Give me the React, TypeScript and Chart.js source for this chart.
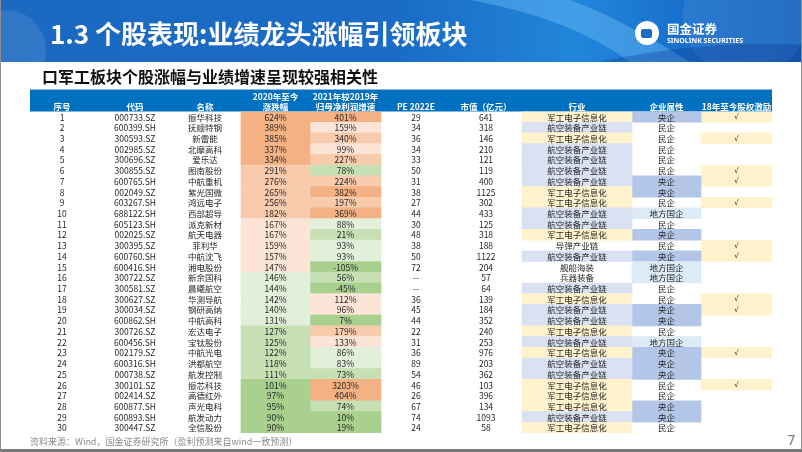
import React, { useEffect, useRef } from 'react';
import { Chart, registerables } from 'chart.js';

Chart.register(...registerables);

// ---------------- data ----------------
const ROW_NO = [1, 2, 3, 4, 5, 6, 7, 8, 9, 10, 11, 12, 13, 14, 15, 16, 17, 18, 19, 20, 21, 22, 23, 24, 25, 26, 27, 28, 29, 30];
const CODES = ['000733.SZ', '600399.SH', '300593.SZ', '002985.SZ', '300696.SZ', '300855.SZ', '600765.SH', '002049.SZ', '603267.SH', '688122.SH', '605123.SH', '002025.SZ', '300395.SZ', '600760.SH', '600416.SH', '300722.SZ', '300581.SZ', '300627.SZ', '300034.SZ', '600862.SH', '300726.SZ', '600456.SH', '002179.SZ', '600316.SH', '000738.SZ', '300101.SZ', '002414.SZ', '600877.SH', '600893.SH', '300447.SZ'];
const NAMES = ['振华科技', '抚顺特钢', '新雷能', '北摩高科', '爱乐达', '图南股份', '中航重机', '紫光国微', '鸿远电子', '西部超导', '派克新材', '航天电器', '菲利华', '中航沈飞', '湘电股份', '新余国科', '晨曦航空', '华测导航', '钢研高纳', '中航高科', '宏达电子', '宝钛股份', '中航光电', '洪都航空', '航发控制', '振芯科技', '高德红外', '声光电科', '航发动力', '全信股份'];
const RISE_2020 = [624, 389, 385, 337, 334, 291, 276, 265, 256, 182, 167, 167, 159, 157, 147, 146, 144, 142, 140, 131, 127, 125, 122, 118, 111, 101, 97, 95, 90, 90];
const GROWTH_2021 = [401, 159, 340, 99, 227, 78, 224, 382, 197, 369, 88, 21, 93, 93, -105, 56, -45, 112, 96, 7, 179, 133, 86, 83, 73, 3203, 404, 74, 10, 19];
const PE_2022E: (number | null)[] = [29, 34, 36, 34, 33, 50, 31, 38, 27, 44, 30, 48, 38, 50, 72, null, null, 36, 45, 44, 22, 31, 36, 89, 54, 46, 26, 67, 74, 24];
const MKT_CAP = [641, 318, 146, 210, 121, 119, 400, 1125, 302, 433, 125, 318, 188, 1122, 204, 57, 64, 139, 184, 352, 240, 253, 976, 203, 362, 103, 396, 134, 1093, 58];
const INDUSTRY = ['军工电子信息化', '航空装备产业链', '军工电子信息化', '航空装备产业链', '航空装备产业链', '航空装备产业链', '航空装备产业链', '军工电子信息化', '军工电子信息化', '航空装备产业链', '航空装备产业链', '军工电子信息化', '导弹产业链', '航空装备产业链', '舰船海装', '兵器装备', '航空装备产业链', '军工电子信息化', '航空装备产业链', '航空装备产业链', '军工电子信息化', '航空装备产业链', '军工电子信息化', '航空装备产业链', '航空装备产业链', '军工电子信息化', '军工电子信息化', '军工电子信息化', '航空装备产业链', '军工电子信息化'];
const OWNERSHIP = ['央企', '民企', '民企', '民企', '民企', '民企', '央企', '央企', '民企', '地方国企', '民企', '央企', '民企', '央企', '地方国企', '地方国企', '民企', '民企', '央企', '央企', '民企', '地方国企', '央企', '央企', '央企', '民企', '民企', '央企', '央企', '民企'];
const INCENTIVE = [true, false, true, false, false, true, true, false, true, false, false, false, true, true, false, false, false, true, true, false, false, false, true, false, false, true, false, false, false, false];

const HEADERS: { lines: string[]; col: string }[] = [
  { lines: ['序号'], col: 'no' },
  { lines: ['代码'], col: 'code' },
  { lines: ['名称'], col: 'name' },
  { lines: ['2020年至今', '涨跌幅'], col: 'rise' },
  { lines: ['2021年较2019年', '归母净利润增速'], col: 'growth' },
  { lines: ['PE 2022E'], col: 'pe' },
  { lines: ['市值（亿元）'], col: 'cap' },
  { lines: ['行业'], col: 'ind' },
  { lines: ['企业属性'], col: 'own' },
  { lines: ['18年至今股权激励'], col: 'inc' },
];

const TITLE = '1.3 个股表现:业绩龙头涨幅引领板块';
const SUBTITLE = '口军工板块个股涨幅与业绩增速呈现较强相关性';
const SOURCE = '资料来源：Wind，国金证券研究所（盈利预测来自wind一致预测）';
const PAGE_NO = '7';

// ---------------- layout & style ----------------
const W = 802;
const H = 452;
const TABLE_SPAN = [30, 772];
const COL_CENTER: Record<string, number> = { no: 62, code: 135, name: 205, rise: 275.5, growth: 345.5, pe: 416, cap: 486, ind: 577, own: 666.5, inc: 736.5 };
const CELL_SPAN: Record<string, [number, number]> = { rise: [241, 310], growth: [310, 381], ind: [522, 632], own: [632, 701], inc: [701, 772] };

const O1 = '#F4B183', O2 = '#F8CBAD', O3 = '#FCE4D6', G3 = '#E2EFDA', G2 = '#C6E0B4', G1 = '#A9D08E';
const RISE_FILL = [O1, O1, O1, O1, O1, O2, O2, O2, O2, O2, O3, O3, O3, O3, O3, G3, G3, G3, G3, G3, G2, G2, G2, G2, G2, G1, G1, G1, G1, G1];
const GROWTH_FILL = [O1, O3, O2, O3, O2, G2, O2, O1, O2, O1, G3, G2, G3, G3, G1, G2, G1, O3, O3, G1, O2, O3, G3, G3, G2, O1, O1, G2, G1, G1];
const INDUSTRY_FILL: Record<string, string> = { '军工电子信息化': '#FFF2CC', '航空装备产业链': '#D9E1F2' };
const OWNERSHIP_FILL: Record<string, string> = { '央企': '#B4C6E7', '地方国企': '#DDEBF7' };
const INCENTIVE_FILL = '#FFF2CC';
const HEADER_BLUE = '#0070C0';
const CJK = '"Noto Sans CJK SC", "Noto Sans", sans-serif';
const TEXT_COLOR = '#262626';

function span(key: string) {
  return ROW_NO.map(() => CELL_SPAN[key]);
}

function drawBanner(ctx: CanvasRenderingContext2D) {
  const BH = 62;
  ctx.save();
  const g = ctx.createLinearGradient(0, 0, W, 0);
  g.addColorStop(0, '#1b68c0');
  g.addColorStop(0.5, '#1a6cc6');
  g.addColorStop(0.72, '#2186da');
  g.addColorStop(0.85, '#1870cc');
  g.addColorStop(1, '#1461bd');
  ctx.fillStyle = g;
  ctx.fillRect(0, 0, W, BH);
  ctx.beginPath();
  ctx.rect(0, 0, W, BH);
  ctx.clip();
  ctx.fillStyle = 'rgba(255,255,255,0.10)';
  ctx.beginPath();
  ctx.arc(6, 50, 40, 0, Math.PI * 2);
  ctx.fill();
  ctx.fillStyle = 'rgba(130,205,255,0.35)';
  ctx.beginPath();
  ctx.moveTo(470, 0);
  ctx.quadraticCurveTo(570, 18, 630, 62);
  ctx.lineTo(690, 62);
  ctx.quadraticCurveTo(620, 18, 570, 0);
  ctx.closePath();
  ctx.fill();
  ctx.fillStyle = 'rgba(255,255,255,0.08)';
  ctx.beginPath();
  ctx.arc(745, 16, 62, 0, Math.PI * 2);
  ctx.fill();
  ctx.fillStyle = 'rgba(10,50,140,0.30)';
  ctx.beginPath();
  ctx.moveTo(600, 62);
  ctx.quadraticCurveTo(700, 40, 802, 45);
  ctx.lineTo(802, 62);
  ctx.closePath();
  ctx.fill();
  ctx.restore();

  // title
  ctx.save();
  ctx.fillStyle = '#ffffff';
  ctx.font = `bold 26px ${CJK}`;
  ctx.textAlign = 'left';
  ctx.textBaseline = 'middle';
  ctx.fillText(TITLE, 50, 34);

  // logo
  ctx.beginPath();
  ctx.arc(647, 33, 12, 0, Math.PI * 2);
  ctx.fill();
  ctx.fillStyle = '#1a6ec8';
  ctx.beginPath();
  ctx.roundRect(641, 29, 11, 9, 2);
  ctx.fill();
  ctx.fillStyle = '#ffffff';
  ctx.font = `bold 12.5px ${CJK}`;
  ctx.fillText('国金证券', 667, 29);
  ctx.font = `bold 7px "Noto Sans", sans-serif`;
  ctx.fillText('SINOLINK SECURITIES', 667, 40.5);
  ctx.restore();
}

const slidePlugin = {
  id: 'slide',
  beforeDraw(chart: any) {
    const { ctx, chartArea, scales } = chart;
    const x = scales.x;
    ctx.save();
    ctx.fillStyle = '#ffffff';
    ctx.fillRect(0, 0, chart.width, chart.height);
    drawBanner(ctx);

    ctx.fillStyle = '#111111';
    ctx.font = `bold 16px ${CJK}`;
    ctx.textAlign = 'left';
    ctx.textBaseline = 'middle';
    ctx.fillText(SUBTITLE, 42, 77);

    const rowH = (chartArea.bottom - chartArea.top) / ROW_NO.length;
    const hTop = chartArea.top - 2.05 * rowH;
    const hl = x.getPixelForValue(TABLE_SPAN[0]);
    const hr = x.getPixelForValue(TABLE_SPAN[1]);
    ctx.fillStyle = HEADER_BLUE;
    ctx.fillRect(hl, hTop, hr - hl, chartArea.top - hTop);

    ctx.fillStyle = '#ffffff';
    ctx.font = `bold 8.5px ${CJK}`;
    ctx.textAlign = 'center';
    HEADERS.forEach((h) => {
      const cx = x.getPixelForValue(COL_CENTER[h.col]);
      if (h.lines.length === 2) {
        ctx.fillText(h.lines[0], cx, hTop + 7);
        ctx.fillText(h.lines[1], cx, hTop + 17.5);
      } else {
        ctx.fillText(h.lines[0], cx, hTop + 17.5);
      }
    });
    ctx.restore();
  },
  afterDatasetsDraw(chart: any) {
    const { ctx, scales } = chart;
    const x = scales.x, y = scales.y;
    ctx.save();
    ctx.fillStyle = TEXT_COLOR;
    ctx.font = `8.5px ${CJK}`;
    ctx.textAlign = 'center';
    ctx.textBaseline = 'middle';
    const put = (s: string, key: string, yc: number) => ctx.fillText(s, x.getPixelForValue(COL_CENTER[key]), yc);
    ROW_NO.forEach((n, i) => {
      const yc = y.getPixelForValue(i) + 0.5;
      put(String(n), 'no', yc);
      put(CODES[i], 'code', yc);
      put(NAMES[i], 'name', yc);
      put(`${RISE_2020[i]}%`, 'rise', yc);
      put(`${GROWTH_2021[i]}%`, 'growth', yc);
      put(PE_2022E[i] == null ? '--' : String(PE_2022E[i]), 'pe', yc);
      put(String(MKT_CAP[i]), 'cap', yc);
      put(INDUSTRY[i], 'ind', yc);
      put(OWNERSHIP[i], 'own', yc);
    });
    ctx.font = `7px "DejaVu Sans", sans-serif`;
    ROW_NO.forEach((n, i) => {
      if (INCENTIVE[i]) put('√', 'inc', y.getPixelForValue(i) + 0.5);
    });
    ctx.restore();
  },
  afterDraw(chart: any) {
    const { ctx } = chart;
    ctx.save();
    ctx.fillStyle = '#8a8a8a';
    ctx.font = `9px ${CJK}`;
    ctx.textAlign = 'left';
    ctx.textBaseline = 'middle';
    ctx.fillText(SOURCE, 30, 442);
    ctx.font = `14px "DejaVu Sans", sans-serif`;
    ctx.fillStyle = '#7f7f7f';
    ctx.textAlign = 'right';
    ctx.fillText(PAGE_NO, 796, 441);
    ctx.strokeStyle = '#8c8c8c';
    ctx.lineWidth = 1;
    ctx.beginPath();
    ctx.moveTo(0.5, 0);
    ctx.lineTo(0.5, H);
    ctx.moveTo(W - 0.5, 0);
    ctx.lineTo(W - 0.5, H);
    ctx.stroke();
    ctx.fillStyle = '#7a7a7a';
    ctx.fillRect(0, 449, W, 3);
    ctx.restore();
  },
};

export default function App() {
  const ref = useRef<HTMLCanvasElement>(null);
  useEffect(() => {
    document.body.style.margin = '0';
    const cellOpts = { barPercentage: 1, categoryPercentage: 1, grouped: false, borderWidth: 0 };
    const chart = new Chart(ref.current as HTMLCanvasElement, {
      type: 'bar',
      data: {
        labels: ROW_NO.map(String),
        datasets: [
          { label: '2020年至今涨跌幅', data: span('rise') as any, backgroundColor: RISE_FILL, ...cellOpts },
          { label: '2021年较2019年归母净利润增速', data: span('growth') as any, backgroundColor: GROWTH_FILL, ...cellOpts },
          { label: '行业', data: span('ind') as any, backgroundColor: INDUSTRY.map((s) => INDUSTRY_FILL[s] || 'rgba(0,0,0,0)'), ...cellOpts },
          { label: '企业属性', data: span('own') as any, backgroundColor: OWNERSHIP.map((s) => OWNERSHIP_FILL[s] || 'rgba(0,0,0,0)'), ...cellOpts },
          { label: '18年至今股权激励', data: INCENTIVE.map((v) => (v ? CELL_SPAN.inc : null)) as any, backgroundColor: INCENTIVE_FILL, ...cellOpts },
        ],
      },
      options: {
        indexAxis: 'y',
        animation: false,
        responsive: false,
        maintainAspectRatio: false,
        layout: { padding: { top: 111.5, bottom: 19, left: 0, right: 0 } },
        scales: {
          x: { type: 'linear', min: 0, max: W, display: false },
          y: { type: 'category', display: false, offset: true },
        },
        plugins: { legend: { display: false }, tooltip: { enabled: false } },
      } as any,
      plugins: [slidePlugin],
    });
    return () => chart.destroy();
  }, []);
  return (
    <div style={{ width: W, height: H }}>
      <canvas ref={ref} width={W} height={H} style={{ display: 'block', width: W, height: H }} />
    </div>
  );
}
